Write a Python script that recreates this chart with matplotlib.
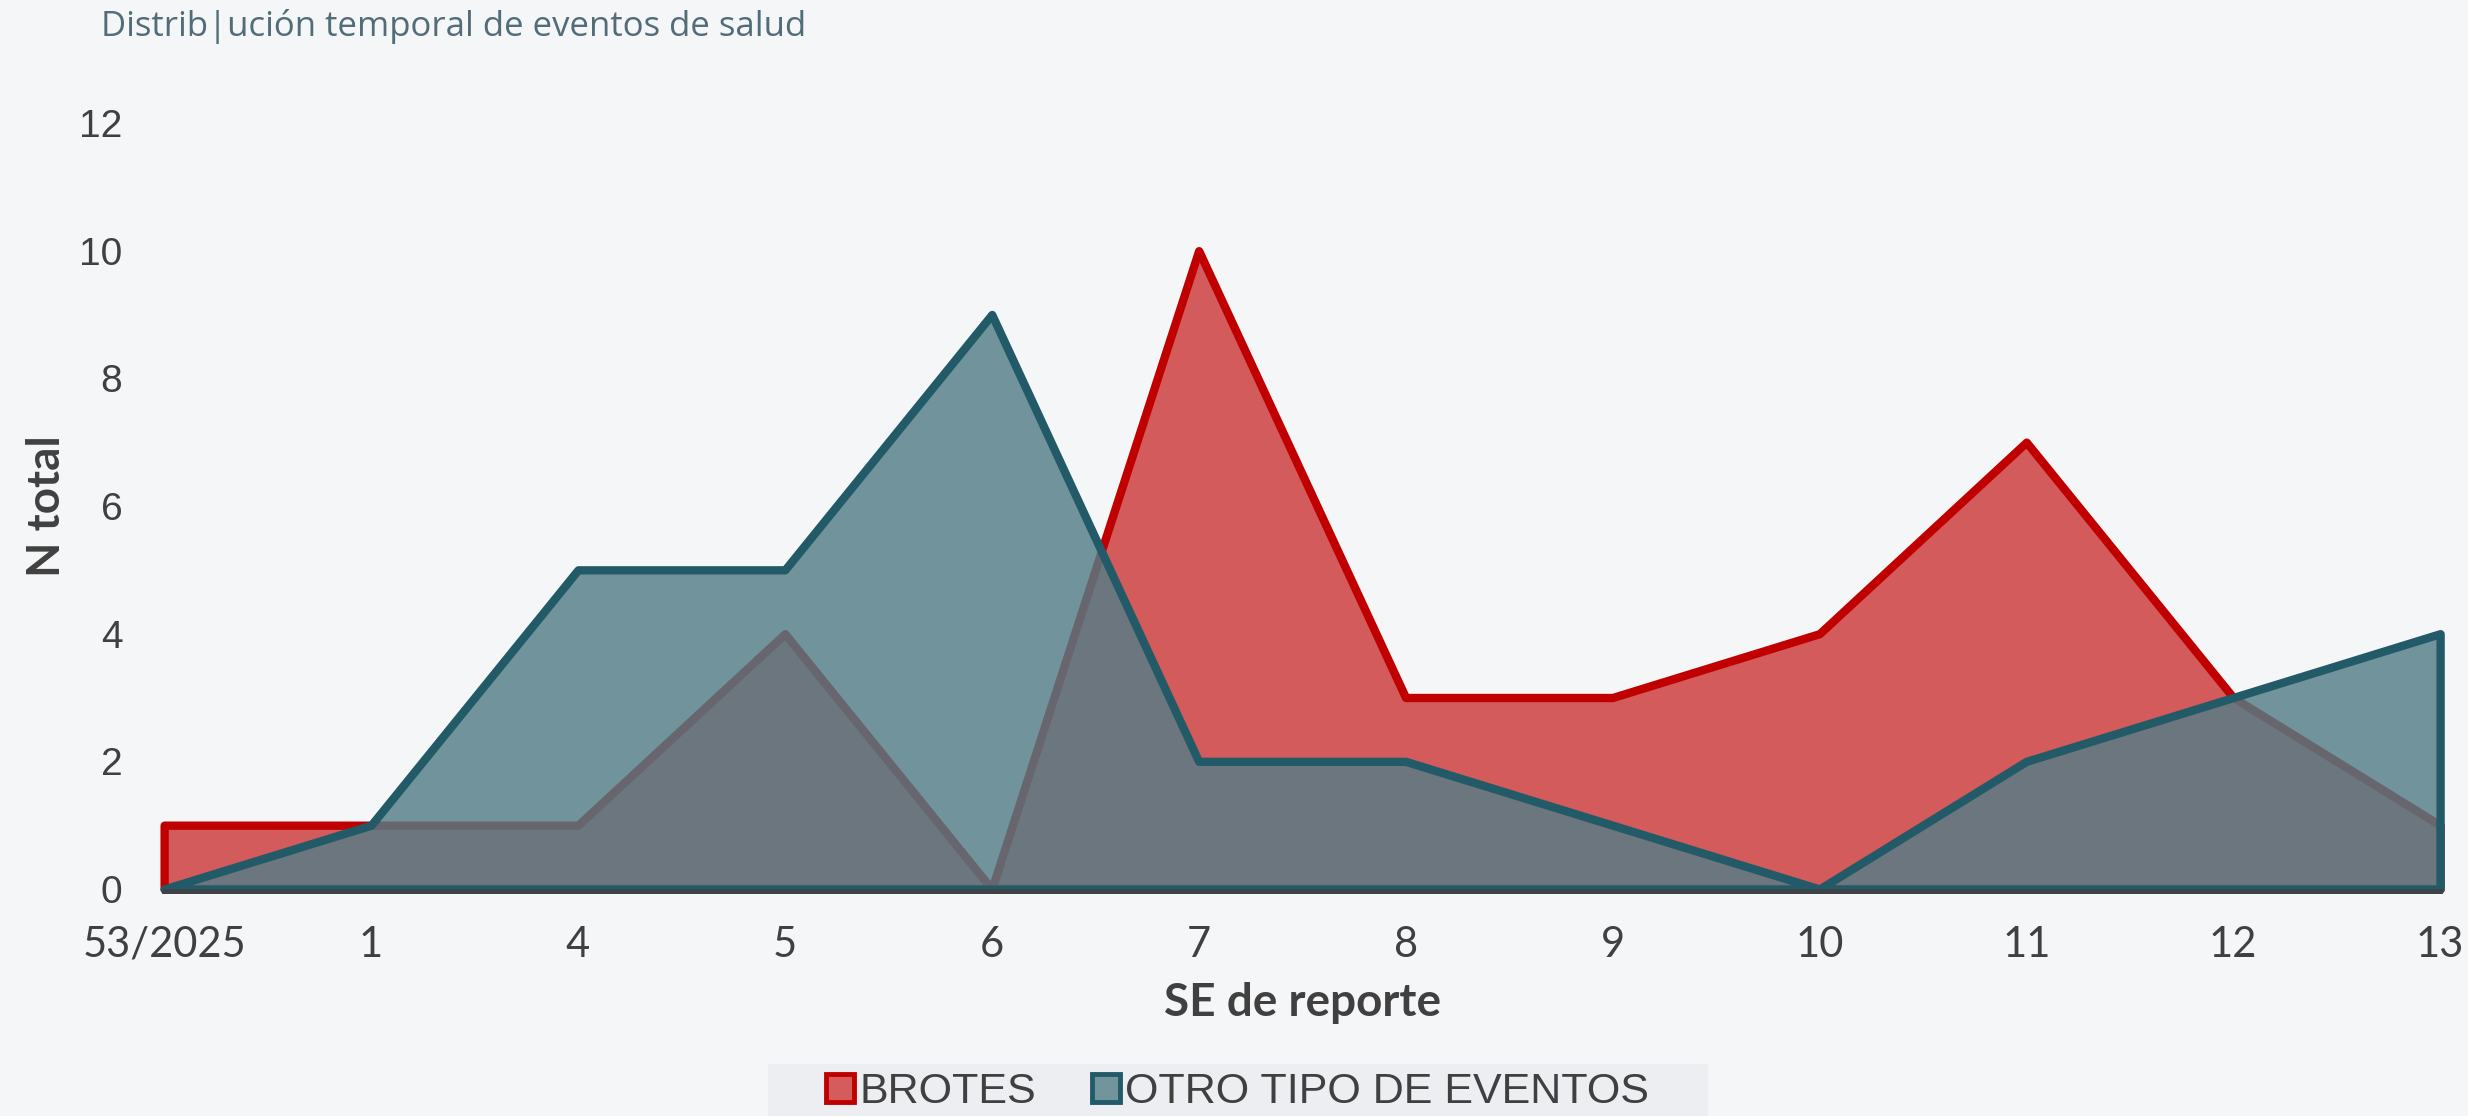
import matplotlib.pyplot as plt
import matplotlib.patches as mpatches

semanas = ['53/2025', '1', '4', '5', '6', '7', '8', '9', '10', '11', '12', '13']
brotes = [1, 1, 1, 4, 0, 10, 3, 3, 4, 7, 3, 1]
otros = [0, 1, 5, 5, 9, 2, 2, 1, 0, 2, 3, 4]

bg = '#f5f6f8'
rojo = '#c00000'
rojo_fill = (192/255, 0, 0, 0.63)
teal = '#225a68'
teal_fill = (83/255, 125/255, 135/255, 0.81)

fig = plt.figure(figsize=(24.68, 11.16), dpi=100, facecolor=bg)
ax = fig.add_axes([0.0665, 0.2034, 0.9222, 0.6864])
ax.set_facecolor(bg)

x = list(range(len(semanas)))
ax.fill_between(x, brotes, 0, facecolor=rojo_fill, edgecolor=rojo,
                linewidth=6, joinstyle='round', clip_on=False, zorder=1)
ax.fill_between(x, otros, 0, facecolor=teal_fill, edgecolor=teal,
                linewidth=6, joinstyle='round', clip_on=False, zorder=2)

ax.set_xlim(0, len(semanas) - 1)
ax.set_ylim(0, 12)
ax.set_yticks(range(0, 13, 2))
ax.set_xticks(x)
ax.set_xticklabels(semanas)
ax.tick_params(length=0)
ax.tick_params(axis='x', pad=25, labelsize=30, labelcolor='#404040', labelfontfamily='Lato')
ax.tick_params(axis='y', pad=30, labelsize=28, labelcolor='#404040',
               labelfontfamily='Liberation Sans')

for s in ['top', 'right', 'left']:
    ax.spines[s].set_visible(False)
ax.spines['bottom'].set_color('#3c4246')
ax.spines['bottom'].set_linewidth(3.5)
ax.spines['bottom'].set_position(('outward', 1.5))
ax.spines['bottom'].set_zorder(3)

ax.set_xlabel('SE de reporte', family='Lato', fontweight='bold', fontsize=33,
              color='#404040', labelpad=13)
ax.set_ylabel('N total', family='Lato', fontweight='bold', fontsize=33,
              color='#404040', labelpad=8)

fig.text(0.041, 0.976, 'Distrib|ución temporal de eventos de salud', family='Open Sans',
         fontsize=25, color='#526c78', ha='left', va='center')

# fondo de la leyenda
fig.patches.append(mpatches.Rectangle((0.3112, 0.0), 0.3809, 0.0466, transform=fig.transFigure,
                                      facecolor='#eceef1', edgecolor='none', zorder=0))

handles = [
    mpatches.Patch(facecolor='#d55c5c', edgecolor=rojo, linewidth=3.5, label='BROTES'),
    mpatches.Patch(facecolor='#72949c', edgecolor=teal, linewidth=3.5, label='OTRO TIPO DE EVENTOS'),
]
leg = fig.legend(handles=handles, loc='center', bbox_to_anchor=(0.5016, 0.0215),
                 ncol=2, frameon=False, handlelength=0.65, handleheight=0.65,
                 handletextpad=0.12, columnspacing=1.3, borderpad=0.0,
                 prop={'family': 'Liberation Sans', 'size': 31})
for t in leg.get_texts():
    t.set_color('#404040')

fig.savefig('out.png', dpi=100, facecolor=bg)
